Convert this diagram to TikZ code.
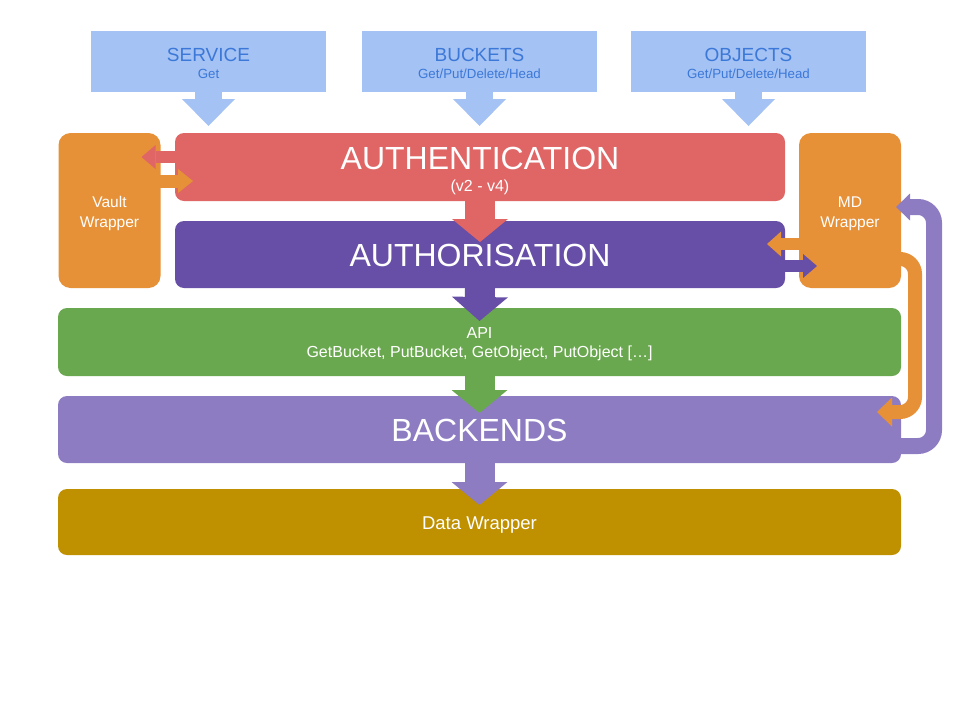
\documentclass[tikz,border=0pt]{standalone}
\usepackage{fontspec}
\setmainfont{Liberation Sans}
\usetikzlibrary{arrows.meta,calc}
\definecolor{cblue}{HTML}{A4C2F4}
\definecolor{ctxtblue}{HTML}{3C78D8}
\definecolor{cred}{HTML}{E06666}
\definecolor{cpurple}{HTML}{674EA7}
\definecolor{corange}{HTML}{E69138}
\definecolor{cgreen}{HTML}{6AA84F}
\definecolor{clav}{HTML}{8E7CC3}
\definecolor{cgold}{HTML}{BF9000}
\begin{document}
\begin{tikzpicture}[x=1pt,y=-1pt,
  topbox/.style={fill=cblue, minimum width=235pt, minimum height=61pt, inner sep=0pt, outer sep=0pt},
  layer/.style={fill=#1, rounded corners=9pt, inner sep=0pt, outer sep=0pt, minimum height=67pt},
  wrapbox/.style={fill=corange, rounded corners=12pt, minimum width=102pt, minimum height=155pt, inner sep=0pt, outer sep=0pt},
  txt/.style={anchor=base, inner sep=0pt, outer sep=0pt, text=white},
  bigtxt/.style={txt, font=\fontsize{32}{38}\selectfont},
  midtxt/.style={txt, font=\fontsize{16}{19}\selectfont},
  wraptxt/.style={txt, font=\fontsize{15.5}{18}\selectfont},
  toptitle/.style={anchor=base, inner sep=0pt, outer sep=0pt, text=ctxtblue, font=\fontsize{19}{22}\selectfont},
  topsub/.style={anchor=base, inner sep=0pt, outer sep=0pt, text=ctxtblue, font=\fontsize{13.3}{16}\selectfont},
  fatdn/.style n args={4}{draw=#1, line width=#2, -{Triangle[width=#3, length=#4, line width=0pt]}},
]
\useasboundingbox (0,0) rectangle (960,720);

% top request boxes
\node[topbox] (svc) at (208.5,61.5) {};
\node[toptitle] (svcT) at ($(svc.center)+(0,-0.5)$) {SERVICE};
\node[topsub] (svcS) at ($(svc.center)+(0,16.8)$) {Get};
\node[topbox] (buck) at (479.5,61.5) {};
\node[toptitle] (buckT) at ($(buck.center)+(0,-0.5)$) {BUCKETS};
\node[topsub] (buckS) at ($(buck.center)+(0,16.8)$) {Get/Put/Delete/Head};
\node[topbox] (obj) at (748.5,61.5) {};
\node[toptitle] (objT) at ($(obj.center)+(0,-0.5)$) {OBJECTS};
\node[topsub] (objS) at ($(obj.center)+(0,16.8)$) {Get/Put/Delete/Head};

% layers
\node[layer=cred, minimum width=610pt, minimum height=68pt] (auth) at (480,167) {};
\node[bigtxt] (authT) at ($(auth.center)+(0,2.3)$) {AUTHENTICATION};
\node[midtxt] (authS) at ($(auth.center)+(0,24.5)$) {(v2 - v4)};

\node[layer=cpurple, minimum width=610pt] (authz) at (480,254.5) {};
\node[bigtxt] (authzT) at ($(authz.center)+(0,12.2)$) {AUTHORISATION};

\node[wrapbox] (vault) at (109.5,210.5) {};
\node[wraptxt] (vaultA) at ($(vault.center)+(0,-3.2)$) {Vault};
\node[wraptxt] (vaultB) at ($(vault.center)+(0,16.8)$) {Wrapper};

\node[wrapbox] (md) at (850,210.5) {};
\node[wraptxt] (mdA) at ($(md.center)+(0,-3.2)$) {MD};
\node[wraptxt] (mdB) at ($(md.center)+(0,16.8)$) {Wrapper};

\node[layer=cgreen, minimum width=843pt, minimum height=68pt] (api) at (479.5,342) {};
\node[midtxt] (apiA) at ($(api.center)+(0,-3.7)$) {API};
\node[midtxt] (apiB) at ($(api.center)+(0,15.3)$) {GetBucket, PutBucket, GetObject, PutObject […]};

\node[layer=clav, minimum width=843pt] (back) at (479.5,429.5) {};
\node[bigtxt] (backT) at ($(back.center)+(0,12.2)$) {BACKENDS};

\node[layer=cgold, minimum width=843pt, minimum height=66pt] (data) at (479.5,522) {};
\node[txt, font=\fontsize{18.5}{22}\selectfont] (dataT) at ($(data.center)+(0,7.3)$) {Data Wrapper};

% down arrows
\draw[fatdn={cblue}{27pt}{53pt}{27pt}, shorten >=7pt] (svc.south) -- (svc.south |- auth.north);
\draw[fatdn={cblue}{27pt}{53pt}{27pt}, shorten >=7pt] (buck.south) -- (buck.south |- auth.north);
\draw[fatdn={cblue}{27pt}{53pt}{27pt}, shorten >=7pt] (obj.south) -- (obj.south |- auth.north);
\draw[fatdn={cred}{30pt}{56pt}{23pt}] (auth.south) -- ([yshift=-21pt]authz.north);
\draw[fatdn={cpurple}{30pt}{56pt}{24pt}] (authz.south) -- ([yshift=-13pt]api.north);
\draw[fatdn={cgreen}{30pt}{56pt}{23pt}] (api.south) -- ([yshift=-17pt]back.north);
\draw[fatdn={clav}{30pt}{56pt}{23pt}] (back.south) -- ([yshift=-16pt]data.north);

% side arrows at the wrappers
\draw[fatdn={cred}{12pt}{24pt}{14pt}] ([xshift=5pt,yshift=10pt]auth.west) -- ([xshift=-19pt,yshift=53.5pt]vault.east);
\draw[fatdn={corange}{13pt}{24pt}{15pt}] ([xshift=-11pt,yshift=29.5pt]vault.east) -- ([xshift=18pt,yshift=-14pt]auth.west);
\draw[fatdn={corange}{12pt}{25pt}{14pt}] ([xshift=6pt,yshift=-33.5pt]md.west) -- ([xshift=-18pt,yshift=10.5pt]authz.east);
\draw[fatdn={cpurple}{12pt}{24pt}{14pt}] ([xshift=-5pt,yshift=-11.5pt]authz.east) -- ([xshift=18pt,yshift=-55.5pt]md.west);

% curved bands
\draw[fatdn={corange}{14pt}{29pt}{15pt}, rounded corners=15pt]
  ([xshift=-6pt,yshift=-48.5pt]md.east) -- ++(20,0) -- ++(0,153) -- ([xshift=-24pt,yshift=17.5pt]back.east);
\draw[fatdn={clav}{16pt}{27pt}{14pt}, rounded corners=16pt]
  ([xshift=-6pt,yshift=-16.5pt]back.east) -- ++(39,0) -- ++(0,-239) -- ([xshift=-5pt,yshift=3.5pt]md.east);
\end{tikzpicture}
\end{document}
